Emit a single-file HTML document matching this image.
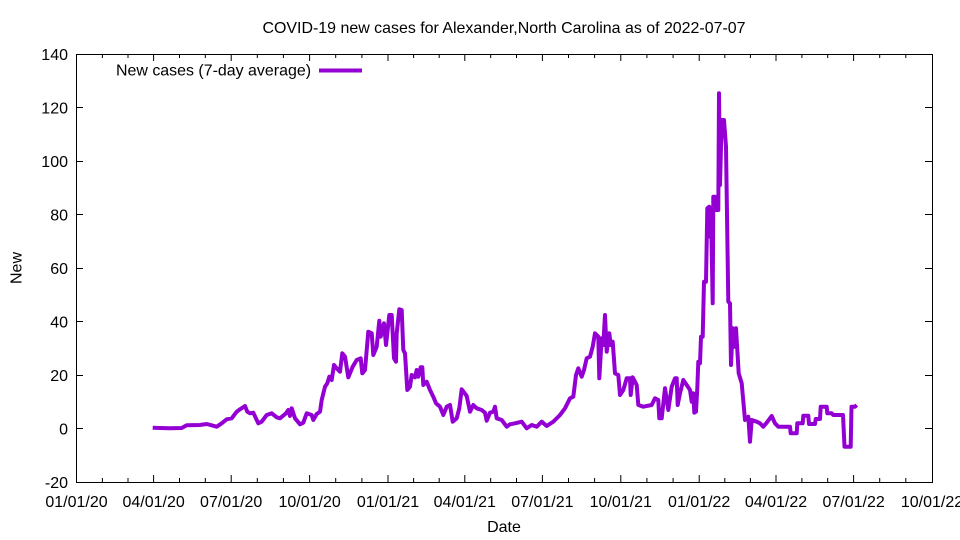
<!DOCTYPE html>
<html>
<head>
<meta charset="utf-8">
<style>
html,body{margin:0;padding:0;background:#fff;}
svg{display:block;}
text{font-family:"Liberation Sans",Arial,sans-serif;fill:#000;}
</style>
</head>
<body>
<svg width="960" height="540" viewBox="0 0 960 540" xmlns="http://www.w3.org/2000/svg">
<rect width="960" height="540" fill="#fff"/>
<text x="504" y="33" font-size="16" text-anchor="middle" textLength="483" lengthAdjust="spacingAndGlyphs">COVID-19 new cases for Alexander,North Carolina as of 2022-07-07</text>

<g stroke="#000" stroke-width="1" fill="none">
<!-- y major ticks left & right -->
<path d="M76 482.5h7M932 482.5h-7 M76 428.5h7M932 428.5h-7 M76 375.5h7M932 375.5h-7 M76 321.5h7M932 321.5h-7 M76 268.5h7M932 268.5h-7 M76 214.5h7M932 214.5h-7 M76 161.5h7M932 161.5h-7 M76 107.5h7M932 107.5h-7 M76 54.5h7M932 54.5h-7"/>
<!-- x major ticks bottom & top -->
<path d="M76.5 482v-7M76.5 54v7 M153.6 482v-7M153.6 54v7 M231.2 482v-7M231.2 54v7 M309.6 482v-7M309.6 54v7 M388 482v-7M388 54v7 M464.8 482v-7M464.8 54v7 M542.4 482v-7M542.4 54v7 M620.8 482v-7M620.8 54v7 M699.2 482v-7M699.2 54v7 M776 482v-7M776 54v7 M853.6 482v-7M853.6 54v7"/>
<!-- x minor ticks -->
<path d="M102.4 482v-4M102.4 54v4 M128 482v-4M128 54v4 M179.5 482v-4M179.5 54v4 M205.3 482v-4M205.3 54v4 M257.3 482v-4M257.3 54v4 M283.4 482v-4M283.4 54v4 M335.7 482v-4M335.7 54v4 M361.9 482v-4M361.9 54v4 M413.6 482v-4M413.6 54v4 M439.2 482v-4M439.2 54v4 M490.7 482v-4M490.7 54v4 M516.5 482v-4M516.5 54v4 M568.5 482v-4M568.5 54v4 M594.6 482v-4M594.6 54v4 M646.9 482v-4M646.9 54v4 M673.1 482v-4M673.1 54v4 M724.8 482v-4M724.8 54v4 M750.4 482v-4M750.4 54v4 M801.9 482v-4M801.9 54v4 M827.7 482v-4M827.7 54v4 M879.7 482v-4M879.7 54v4 M905.8 482v-4M905.8 54v4"/>
<rect x="76.5" y="54.5" width="856" height="428"/>
</g>

<g font-size="16" text-anchor="end">
<text x="68" y="488">-20</text>
<text x="68" y="434.5">0</text>
<text x="68" y="381">20</text>
<text x="68" y="327.5">40</text>
<text x="68" y="274">60</text>
<text x="68" y="220.5">80</text>
<text x="68" y="167">100</text>
<text x="68" y="113.5">120</text>
<text x="68" y="60">140</text>
</g>

<g font-size="16" text-anchor="middle">
<text x="76.5" y="507">01/01/20</text>
<text x="153.6" y="507">04/01/20</text>
<text x="231.2" y="507">07/01/20</text>
<text x="309.6" y="507">10/01/20</text>
<text x="388" y="507">01/01/21</text>
<text x="464.8" y="507">04/01/21</text>
<text x="542.4" y="507">07/01/21</text>
<text x="620.8" y="507">10/01/21</text>
<text x="699.2" y="507">01/01/22</text>
<text x="776" y="507">04/01/22</text>
<text x="853.6" y="507">07/01/22</text>
<text x="932" y="507">10/01/22</text>
<text x="504" y="532">Date</text>
<text transform="translate(21.5,268) rotate(-90)">New</text>
</g>

<text x="311" y="75.5" font-size="16" text-anchor="end" textLength="195" lengthAdjust="spacingAndGlyphs">New cases (7-day average)</text>
<line x1="319" y1="70.5" x2="362" y2="70.5" stroke="#9400D3" stroke-width="4"/>

<polyline fill="none" stroke="#9400D3" stroke-width="4" stroke-linejoin="round" points="
152.7,427.7 160,428 170,428.3 181.7,428 186.7,425.3 200,425 206.7,424 211.7,425.3 216.7,426.7 221.7,423.3 226.7,419.3 231.7,418.3 236.7,411.7 240,409.3 245,406 247.3,411.7 250,413.3 253.3,412.7 258.3,423.3 261.7,421.7 266.7,415 271.7,413.3 276.7,417.3 280,418.3 286,413.3 288.3,410 290,416 291.7,408.3 295,418.3 300,424.3 303.3,422.7 306.7,413.3 311.7,415 313.3,420 316.7,414 320,411.7 321.7,400 325,386.7 327.3,383.3 329.3,376.7 331.7,380 334,365 336.7,368.3 340,371.7 342.3,353.3 345,356.7 348.3,377.3 352.7,366.7 356.7,360 360.7,358.3 362.3,373.3 365,370 368.3,331.7 371.7,333.3 373.3,355 376.7,346.7 379.3,320.7 380.7,336.7 384,323.3 386,345 389.3,315 391.7,315 394,358.3 396,361.7 396.7,333.3 399.3,309.3 401.7,310 403.3,350 405,353.3 407.3,390 410,386.7 411.7,375 415,377.3 416.7,370 418.3,376.7 420.7,367.3 422.3,367.3 423.3,385 426.7,381.7 430,390 433.3,396.7 436,403.3 440,406.7
443.3,415 446.7,406.7 450,405 452.7,421.7 456.7,418.3 459.3,408.3 461.7,389.3 466.7,396 470,411.7 473.3,405 476.7,408.3 481.7,410 485,412.7 486.7,420.7 490,412.7 493.3,411.7 495,406.7 496.7,418.3 501.7,420 506.7,426.7 510,424.3 515,423.3 521.7,421.7 526.7,428.3 531.7,425 536.7,426.7 541.7,421.7 546.7,426 553.3,421.7 560,415 565,408.3 570,398.3 573.3,396.7 576,375 578.3,368.3 581.7,376.7 584,370 586.7,358.3 590,356.7 592.7,346.7 595,333.3 598.3,336.7 599.3,378.3 601.7,338.3 603.3,345 605,315 606.7,351.7 609.3,333.3 610.7,345 612.7,341.7 615,373.3 618.3,375 620,395 623.3,390 626.7,378.3 630,378.3 630.7,395 632.7,377.3 636.7,385 638.3,405 643.3,406.7 651.7,405 655,398.3 658.3,400 659.3,418.3 661.7,418.3 665,388.3 668.3,410 671.7,386.7 675,378.3 676.7,378.3 677.7,405 680,393.3 683.3,380 686.7,385 690,390 691.7,401.7 693.3,393.3 694.3,412.7 696,411.7 697.3,388.3 698.3,361.7 700,363.3 701,336.7 702.7,336.7 704,281.7 706,281.7 707.3,208.3 709.3,206.7 710,236.7 711,213.3 712.7,303.3 713.3,196.7 715,196.7 716,210 718.3,210 719,93.3 720,185 721.7,120 724,120 726,146.7 728.3,301.7 730,303.3 731,365 732.7,328.3 734.3,346.7 736,328.3 738.7,373.3 741.7,383.3 745,420 748.3,416.7 750,441.7 751.7,420 756.7,421.7 760,423.3 763.3,426.7 766.7,422.7 771.7,416 775,423.3 778.3,426.7 790,426.7 790.7,433.3 796.7,433.3 797.3,423.3 802.7,423.3 803.3,415.7 808.3,415.7 809,424 815,424 815.7,419 820,419 820.7,406.7 826.7,406.7 827.3,413.3 831.7,413.3 833.3,415 843,415 844.5,446.7 850.7,446.7 851.5,406.7 855,406.7 856.7,405"/>
</svg>
</body>
</html>
